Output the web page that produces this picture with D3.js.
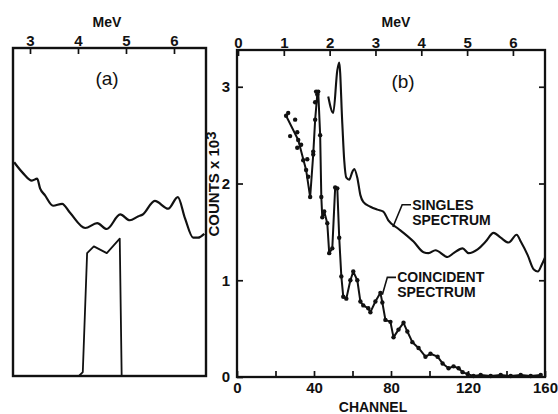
<!DOCTYPE html>
<html><head><meta charset="utf-8">
<script src="https://cdn.jsdelivr.net/npm/d3@7"></script>
<style>html,body{margin:0;background:#fff}svg{display:block}</style>
</head><body>
<script>
// ---- Panel (a): singles spectrum vs energy, with the coincidence gate window ----
const aEnergy = [2.67, 2.85, 3.04, 3.15, 3.21, 3.31, 3.48, 3.67, 3.83, 4.15, 4.40, 4.60, 4.88, 5.08, 5.25, 5.35, 5.60, 5.88, 6.08, 6.23, 6.40, 6.50, 6.63];
const aCounts = [2.22, 2.11, 2.03, 2.05, 1.95, 1.88, 1.77, 1.79, 1.70, 1.54, 1.59, 1.53, 1.68, 1.62, 1.66, 1.68, 1.82, 1.74, 1.86, 1.64, 1.44, 1.44, 1.48];
const gateEnergy = [4.02, 4.10, 4.19, 4.33, 4.60, 4.87, 4.91];
const gateCounts = [0.0, 0.05, 1.28, 1.35, 1.28, 1.43, 0.0];
const mevTicksA = [3, 4, 5, 6];

// ---- Panel (b): singles and coincident spectra vs channel ----
const singlesChannel = [47.4, 50.0, 52.1, 53.1, 54.7, 55.7, 56.8, 58.3, 59.9, 60.9, 62.5, 64.1, 65.6, 69.3, 72.9, 76.0, 78.6, 83.3, 86.5, 91.7, 96.9, 99.5, 103.1, 109.4, 112.5, 117.2, 120.3, 125.0, 129.2, 133.3, 137.0, 141.1, 145.3, 147.4, 151.0, 154.2, 156.3, 158.3, 159.9];
const singlesCounts = [2.90, 2.73, 3.17, 3.25, 2.62, 2.24, 2.06, 2.04, 2.12, 2.15, 2.06, 1.88, 1.81, 1.76, 1.73, 1.71, 1.62, 1.54, 1.49, 1.40, 1.29, 1.28, 1.31, 1.24, 1.28, 1.33, 1.28, 1.32, 1.40, 1.49, 1.44, 1.39, 1.47, 1.40, 1.26, 1.11, 1.09, 1.16, 1.23];

const coincChannel = [25.5, 31.8, 35.9, 38.0, 39.6, 40.6, 41.7, 42.2, 43.2, 43.8, 44.3, 45.3, 46.9, 47.9, 49.5, 51.0, 52.1, 53.1, 54.2, 55.2, 56.8, 58.9, 60.4, 62.5, 64.1, 65.6, 68.2, 69.3, 71.9, 74.5, 75.5, 77.1, 79.7, 81.3, 83.9, 86.5, 88.5, 91.1, 94.3, 97.9, 100.5, 104.2, 106.8, 109.9, 112.5, 115.1, 117.2, 119.8, 122.9, 126.6, 131.8, 137.0, 142.2, 147.4, 152.6, 157.8];
const coincCounts = [2.70, 2.45, 2.14, 1.86, 2.30, 2.66, 2.92, 2.95, 2.50, 1.86, 1.65, 1.71, 1.59, 1.28, 1.33, 1.96, 1.95, 1.44, 1.04, 0.83, 0.81, 1.00, 1.09, 1.00, 0.78, 0.74, 0.71, 0.67, 0.78, 0.87, 0.77, 0.59, 0.57, 0.41, 0.49, 0.56, 0.47, 0.36, 0.30, 0.21, 0.24, 0.21, 0.14, 0.09, 0.11, 0.09, 0.05, 0.03, 0.01, 0.02, 0.01, 0.02, 0.01, 0.02, 0.01, 0.02];
// scattered measured points around the fitted low-channel segment
const extraChannel = [26.6, 30.2, 27.6, 31.3, 31.3, 33.3, 34.4, 36.5, 37.0, 41.1, 40.6, 39.6];
const extraCounts = [2.73, 2.66, 2.49, 2.53, 2.37, 2.40, 2.24, 2.25, 2.07, 2.95, 2.84, 2.33];

const countTicks = [0, 1, 2, 3];
const channelTicks = [0, 20, 40, 60, 80, 100, 120, 140, 160];
const channelLabels = [0, 40, 80, 120, 160];
const mevTicksB = [0, 1, 2, 3, 4, 5, 6];

const W = 558, H = 414;
const FONT = "'Liberation Sans', Arial, sans-serif";
const INK = "#111";

const svg = d3.select("body").append("svg").attr("width", W).attr("height", H)
  .style("font-family", FONT);
svg.append("rect").attr("width", W).attr("height", H).attr("fill", "#fff");

// shared vertical scale (counts x 10^3)
const y = d3.scaleLinear().domain([0, 3.38]).range([377, 50]);

// ---------- Panel (a) ----------
const aLeft = 13, aRight = 206, aTop = 48, aBottom = 376;
const xA = d3.scaleLinear().domain([2.646, 6.667]).range([aLeft, aRight]);

const gA = svg.append("g");
gA.append("rect").attr("x", aLeft).attr("y", aTop).attr("width", aRight - aLeft).attr("height", aBottom - aTop)
  .attr("fill", "none").attr("stroke", INK).attr("stroke-width", 2.4);

const axA = gA.append("g").attr("transform", `translate(0,${aTop})`)
  .call(d3.axisTop(xA).tickValues(mevTicksA).tickSize(-6).tickPadding(2).tickFormat(d3.format("d")));
axA.select(".domain").remove();
axA.selectAll("line").attr("stroke", INK).attr("stroke-width", 1.7);
axA.selectAll("text").attr("font-size", 15).attr("font-weight", "bold").attr("fill", INK).attr("font-family", FONT);

gA.append("text").attr("x", 107).attr("y", 27).attr("text-anchor", "middle")
  .attr("font-size", 14).attr("font-weight", "bold").attr("fill", INK).text("MeV");
gA.append("text").attr("x", 107).attr("y", 85).attr("text-anchor", "middle")
  .attr("font-size", 19).attr("fill", INK).text("(a)");

const lineA = d3.line().x(d => xA(d[0])).y(d => y(d[1])).curve(d3.curveMonotoneX);
gA.append("path").datum(d3.zip(aEnergy, aCounts)).attr("d", lineA)
  .attr("fill", "none").attr("stroke", INK).attr("stroke-width", 2.2).attr("stroke-linejoin", "round");

const gateLine = d3.line().x(d => xA(d[0])).y(d => Math.min(y(d[1]), aBottom));
gA.append("path").datum(d3.zip(gateEnergy, gateCounts)).attr("d", gateLine)
  .attr("fill", "none").attr("stroke", INK).attr("stroke-width", 1.8).attr("stroke-linejoin", "round");

// ---------- Panel (b) ----------
const bLeft = 237, bRight = 545, bTop = 50, bBottom = 377;
const xB = d3.scaleLinear().domain([0, 160]).range([bLeft, bRight]);
const xMeV = d3.scaleLinear().domain([0, 6.7]).range([238, bRight]);

const gB = svg.append("g");
gB.append("rect").attr("x", bLeft).attr("y", bTop).attr("width", bRight - bLeft).attr("height", bBottom - bTop)
  .attr("fill", "none").attr("stroke", INK).attr("stroke-width", 2.3);

function styleAxis(sel) {
  sel.select(".domain").remove();
  sel.selectAll("line").attr("stroke", INK).attr("stroke-width", 1.7);
  sel.selectAll("text").attr("font-size", 15).attr("font-weight", "bold").attr("fill", INK).attr("font-family", FONT);
}

gB.append("g").attr("transform", `translate(0,${bBottom})`)
  .call(d3.axisBottom(xB).tickValues(channelTicks).tickSize(-6).tickPadding(5)
    .tickFormat(d => channelLabels.includes(d) ? d : ""))
  .call(styleAxis);

gB.append("g").attr("transform", `translate(${bLeft},0)`)
  .call(d3.axisLeft(y).tickValues(countTicks).tickSize(-6).tickPadding(7).tickFormat(d3.format("d")))
  .call(styleAxis);

gB.append("g").attr("transform", `translate(${bRight},0)`)
  .call(d3.axisRight(y).tickValues(countTicks.slice(1)).tickSize(-6).tickFormat(""))
  .call(styleAxis);

gB.append("g").attr("transform", `translate(0,${bTop})`)
  .call(d3.axisTop(xMeV).tickValues(mevTicksB).tickSize(-6).tickPadding(2).tickFormat(d3.format("d")))
  .call(styleAxis);

gB.append("text").attr("x", 396).attr("y", 27).attr("text-anchor", "middle")
  .attr("font-size", 14).attr("font-weight", "bold").attr("fill", INK).text("MeV");
gB.append("text").attr("x", 403).attr("y", 88).attr("text-anchor", "middle")
  .attr("font-size", 19).attr("fill", INK).text("(b)");
gB.append("text").attr("x", 373).attr("y", 412).attr("text-anchor", "middle")
  .attr("font-size", 14).attr("font-weight", "bold").attr("fill", INK).text("CHANNEL");

const yl = svg.append("text").attr("transform", "translate(219,184) rotate(-90)").attr("text-anchor", "middle")
  .attr("font-size", 15).attr("font-weight", "bold").attr("fill", INK);
yl.append("tspan").text("COUNTS x 10");
yl.append("tspan").attr("dy", -3).text("3");

const lineB = d3.line().x(d => xB(d[0])).y(d => y(d[1]));
gB.append("path").datum(d3.zip(singlesChannel, singlesCounts))
  .attr("d", lineB.curve(d3.curveMonotoneX))
  .attr("fill", "none").attr("stroke", INK).attr("stroke-width", 2.1).attr("stroke-linejoin", "round");

const lineC = d3.line().x(d => xB(d[0])).y(d => y(d[1])).curve(d3.curveLinear);
gB.append("path").datum(d3.zip(coincChannel, coincCounts)).attr("d", lineC)
  .attr("fill", "none").attr("stroke", INK).attr("stroke-width", 2.0).attr("stroke-linejoin", "round");

gB.append("g").selectAll("circle")
  .data(d3.zip(coincChannel, coincCounts).concat(d3.zip(extraChannel, extraCounts)))
  .join("circle").attr("cx", d => xB(d[0])).attr("cy", d => y(d[1])).attr("r", 2.2).attr("fill", INK);

// labels with leader lines
function leader(pts) {
  gB.append("path").datum(pts).attr("d", d3.line().x(d => xB(d[0])).y(d => y(d[1])))
    .attr("fill", "none").attr("stroke", INK).attr("stroke-width", 1.6);
}
leader([[81.0, 1.55], [85.8, 1.78], [90.4, 1.78]]);
leader([[75.5, 0.85], [78.1, 1.03], [82.6, 1.03]]);

function label(c, v, lines) {
  const t = gB.append("text").attr("x", xB(c)).attr("y", y(v) + 5)
    .attr("font-size", 14).attr("font-weight", "bold").attr("fill", INK);
  lines.forEach((s, i) => t.append("tspan").attr("x", xB(c)).attr("dy", i ? 15 : 0).text(s));
}
label(91.0, 1.78, ["SINGLES", "SPECTRUM"]);
label(83.2, 1.03, ["COINCIDENT", "SPECTRUM"]);
</script>
</body></html>
